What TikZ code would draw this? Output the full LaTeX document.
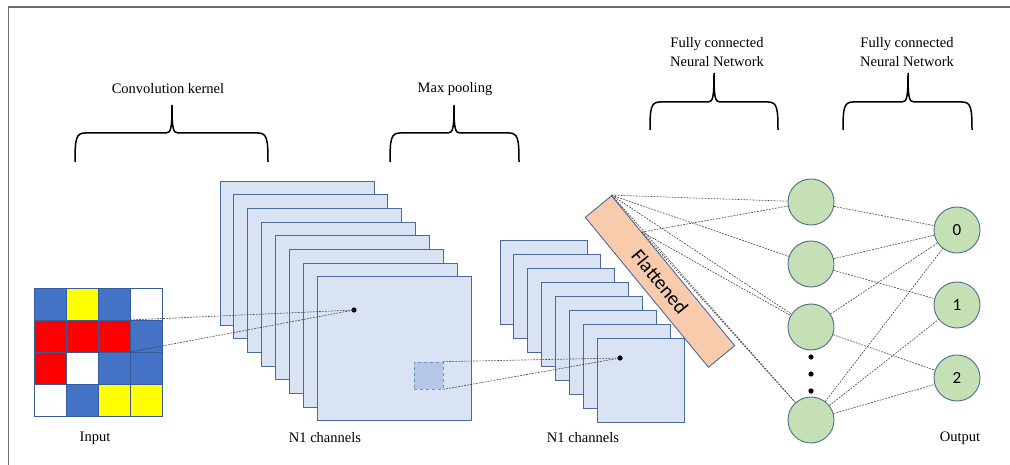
\documentclass[tikz,border=0pt]{standalone}
\usepackage{fontspec}
\setmainfont{Liberation Serif}
\newfontfamily\calib{Carlito}
\usetikzlibrary{calc}
\definecolor{planefill}{HTML}{DAE3F3}
\definecolor{planeline}{HTML}{4A6A9E}
\definecolor{sqfill}{HTML}{B4C7E7}
\definecolor{sqline}{HTML}{6A8CC7}
\definecolor{barfill}{HTML}{F8CBAD}
\definecolor{neufill}{HTML}{C5E0B4}
\definecolor{neuline}{HTML}{4A6E8E}
\definecolor{gblue}{HTML}{4472C4}
\definecolor{gyellow}{HTML}{FFFF00}
\definecolor{gred}{HTML}{FF0000}
\definecolor{gwhite}{HTML}{FFFFFF}
\definecolor{framegray}{HTML}{6E6E6E}
\newcommand{\drawbrace}[6]{%
  \draw[bracestyle] (#1,#5) .. controls (#1,#4+6) and (#1+1,#4) .. (#1+10,#4)
    -- (#2-6,#4) .. controls (#2-1,#4) and (#2,#4-5) .. (#2,#6)
    .. controls (#2,#4-5) and (#2+1,#4) .. (#2+6,#4)
    -- (#3-10,#4) .. controls (#3-1,#4) and (#3,#4+6) .. (#3,#5);}
\begin{document}
\begin{tikzpicture}[x=1pt,y=-1pt,
  lbl/.style={font=\fontsize{14.5}{19}\selectfont, inner sep=0pt, align=center},
  cell/.style={draw=gblue!80!black, line width=0.5pt, minimum size=32pt, inner sep=0pt, outer sep=0pt},
  cplane/.style={draw=planeline, fill=planefill, line width=0.9pt, minimum width=154pt, minimum height=144pt, inner sep=0pt, outer sep=0pt},
  pplane/.style={draw=planeline, fill=planefill, line width=0.9pt, minimum width=87pt, minimum height=84pt, inner sep=0pt, outer sep=0pt},
  neuron/.style={circle, draw=neuline, fill=neufill, line width=0.9pt, minimum size=46pt, inner sep=0pt, font=\calib\fontsize{17}{17}\selectfont},
  conn/.style={draw=black!75, line width=0.6pt, dash pattern=on 1.8pt off 1.2pt},
  bracestyle/.style={draw=black, line width=1.5pt}
]
\useasboundingbox (0,0) rectangle (1010,465);
\fill[white] (0,0) rectangle (1010,465);
% frame
\draw[framegray, line width=1.6pt] (8.5,465) -- (8.5,7) -- (1010,7);

% braces
\drawbrace{75}{172}{268}{133}{162}{105}
\drawbrace{390}{454}{519}{133}{162}{105}
\drawbrace{650}{714}{778}{102}{130}{73}
\drawbrace{843}{908}{972}{102}{130}{73}

% labels
\node[lbl] (lconv) at (168,89) {Convolution kernel};
\node[lbl] (lpool) at (455,89) {Max pooling};
\node[lbl] (lfc1) at (717,52.5) {Fully connected\\Neural Network};
\node[lbl] (lfc2) at (907,52.5) {Fully connected\\Neural Network};
\node[lbl] (linput) at (95,438) {Input};
\node[lbl] (lch1) at (325,438) {N1 channels};
\node[lbl] (lch2) at (583,438) {N1 channels};
\node[lbl] (lout) at (960,438) {Output};

% input grid
\foreach \c [count=\i from 0] in {gblue,gyellow,gblue,gwhite,gred,gred,gred,gblue,gred,gwhite,gblue,gblue,gwhite,gblue,gyellow,gyellow}{
  \pgfmathtruncatemacro{\col}{mod(\i,4)}
  \pgfmathtruncatemacro{\row}{int(\i/4)}
  \node[cell, fill=\c] (g\i) at (50+32*\col, 304+32*\row) {};
}

% convolution planes
\foreach \i in {0,...,7}{
  \node[cplane] (c\i) at (297+13.9*\i, 253+13.7*\i) {};
}
\node[draw=sqline, fill=sqfill, dashed, line width=0.7pt, minimum width=29pt, minimum height=27pt, inner sep=0pt] (sq) at (428.5,375.5) {};
\coordinate (cdot) at (354,310);
\fill (cdot) circle (2.6pt);

% pooling planes
\foreach \i in {0,...,7}{
  \node[pplane] (p\i) at (543.5+13.9*\i, 282+14*\i) {};
}
\coordinate (pdot) at (620,358);
\fill (pdot) circle (2.6pt);

% input -> conv, conv -> pool
\draw[conn] (g6.north east) -- (cdot);
\draw[conn] (g6.south east) -- (cdot);
\draw[conn] (sq.north east) -- (pdot);
\draw[conn] (sq.south east) -- (pdot);

% flattened bar
\node[draw=planeline, fill=barfill, line width=0.9pt, minimum width=194pt, minimum height=34pt, inner sep=0pt, rotate=-50.6, font=\calib\fontsize{20}{20}\selectfont] (bar) at (660,281.5) {Flattened};
\coordinate (bt) at (bar.north west);
\coordinate (bp) at ($(bar.north west)!0.245!(bar.north east)$);

% hidden neurons
\node[neuron] (h1) at (811,202) {};
\node[neuron] (h2) at (811,264) {};
\node[neuron] (h3) at (811,327) {};
\node[neuron] (h4) at (811,420) {};
\fill (811,357) circle (2.6pt) (811,374) circle (2.6pt) (811,391) circle (2.6pt);

% output neurons
\node[neuron] (o0) at (957,230) {0};
\node[neuron] (o1) at (957,305) {1};
\node[neuron] (o2) at (957,378) {2};

% bar -> hidden
\draw[conn] (bt) -- (h1);
\draw[conn] (bt) -- (h2);
\draw[conn] (bt) -- (h3);
\draw[conn] (bt) -- (h4);
\draw[conn] (bp) -- (h1);
\draw[conn] (bp) -- (h3);
\draw[conn] (bp) -- (h4);

% hidden -> output
\draw[conn] (h1) -- (o0);
\draw[conn] (h2) -- (o0);
\draw[conn] (h2) -- (o1);
\draw[conn] (h3) -- (o0);
\draw[conn] (h3) -- (o2);
\draw[conn] (h4) -- (o0);
\draw[conn] (h4) -- (o1);
\draw[conn] (h4) -- (o2);
\end{tikzpicture}
\end{document}
